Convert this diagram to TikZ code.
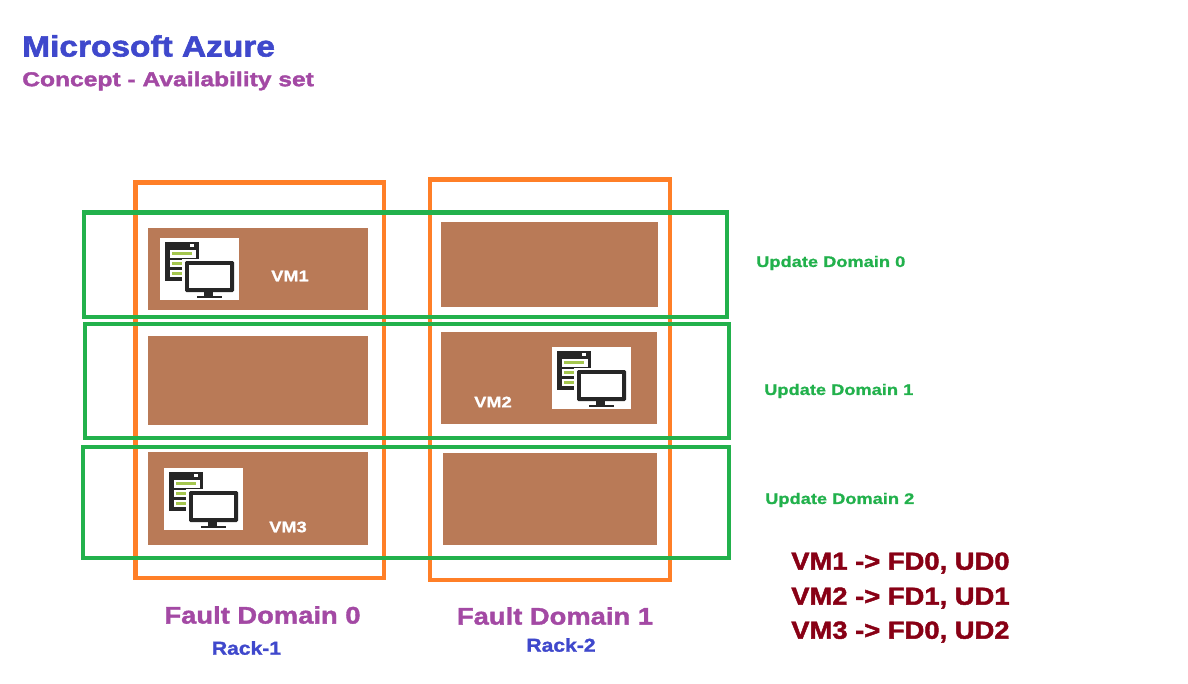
\documentclass[tikz,border=0pt]{standalone}
\usepackage{fontspec}
\setmainfont{Liberation Sans}
\newfontfamily\ttlfont[FakeStretch=1.14,FakeBold=2]{Liberation Sans Bold}
\newfontfamily\subfont[FakeStretch=1.23,FakeBold=1.8]{Liberation Sans Bold}
\newfontfamily\udfont[FakeStretch=1.19,FakeBold=1]{Liberation Sans Bold}
\newfontfamily\fdfont[FakeStretch=1.14,FakeBold=1.5]{Liberation Sans Bold}
\newfontfamily\rkfont[FakeStretch=1.13,FakeBold=1.2]{Liberation Sans Bold}
\newfontfamily\mpfont[FakeStretch=1.11,FakeBold=1.8]{Liberation Sans Bold}
\definecolor{fdorange}{HTML}{FF7F27}
\definecolor{udgreen}{HTML}{22B14C}
\definecolor{rackbrown}{HTML}{B97A57}
\definecolor{ttlblue}{HTML}{3F48CC}
\definecolor{ttlpurple}{HTML}{A349A4}
\definecolor{mapred}{HTML}{880015}
\definecolor{icondark}{HTML}{262626}
\definecolor{icongreen}{HTML}{A4C64E}
\tikzset{
  x=0.75pt,y=-0.75pt,
  fdbox/.style={draw=fdorange,line width=3.6pt,fill=none},
  udbox/.style={draw=udgreen,line width=3.6pt,fill=none},
  slot/.style={fill=rackbrown,draw=none},
  vmlabel/.style={text=white,font=\udfont\fontsize{11.5}{14}\selectfont,inner sep=0pt},
  udlabel/.style={text=udgreen,font=\udfont\fontsize{11.5}{14}\selectfont,inner sep=0pt},
  fdlabel/.style={text=ttlpurple,font=\fdfont\fontsize{18}{22}\selectfont,inner sep=0pt},
  racklabel/.style={text=ttlblue,font=\rkfont\fontsize{14}{17}\selectfont,inner sep=0pt},
  maplabel/.style={text=mapred,font=\mpfont\fontsize{18.5}{22}\selectfont,inner sep=0pt},
  vmicon/.pic={
    \fill[white] (0,0) rectangle (79,62);
    \fill[icondark] (5,4) rectangle (39,43);
    \foreach \yy in {12,21.5,31.5}{
      \fill[white] (10,\yy) rectangle (35.5,\yy+7.5);
      \fill[icongreen] (12,\yy+2) rectangle (32,\yy+5);
    }
    \fill[white] (30,6) rectangle (34,9);
    \fill[white] (22,20.5) rectangle (79,62);
    \fill[icondark,rounded corners=1pt] (25,23) rectangle (74,54);
    \fill[white] (29,27) rectangle (70,50);
    \fill[icondark] (44,54) rectangle (53,58);
    \fill[icondark] (37,58) rectangle (62,60);
  },
}
\begin{document}
\begin{tikzpicture}
\useasboundingbox (0,0) rectangle (1188,683);
\fill[white] (0,0) rectangle (1188,683);
\node[anchor=west,inner sep=0pt,text=ttlblue,font=\ttlfont\fontsize{22}{26}\selectfont] (title) at (22,46) {Microsoft Azure};
\node[anchor=west,inner sep=0pt,text=ttlpurple,font=\subfont\fontsize{15}{18}\selectfont] (subtitle) at (22,81) {Concept - Availability set};
\fill[slot] (148,228) rectangle (368,310);
\fill[slot] (441,222) rectangle (658,307);
\fill[slot] (148,336) rectangle (368,425);
\fill[slot] (441,332) rectangle (657,424);
\fill[slot] (148,452) rectangle (368,545);
\fill[slot] (443,453) rectangle (657,545);
\pic at (160,238) {vmicon};
\pic at (552,347) {vmicon};
\pic at (164,468) {vmicon};
\draw[fdbox] (135.5,182.5) rectangle (384,578);
\draw[fdbox] (430,179.5) rectangle (670,580);
\draw[udbox] (84,212.5) rectangle (727,317);
\draw[udbox] (85,324) rectangle (729,438);
\draw[udbox] (83,447) rectangle (729,558);
\node[vmlabel] (vm1) at (290,276) {VM1};
\node[vmlabel] (vm2) at (493,402) {VM2};
\node[vmlabel] (vm3) at (288,527) {VM3};
\node[udlabel,anchor=west] (ud0) at (756,263) {Update Domain 0};
\node[udlabel,anchor=west] (ud1) at (764,391) {Update Domain 1};
\node[udlabel,anchor=west] (ud2) at (765,500) {Update Domain 2};
\node[fdlabel] (fd0) at (262.5,615) {Fault Domain 0};
\node[fdlabel] (fd1) at (555,616) {Fault Domain 1};
\node[racklabel] (rack1) at (246.5,648) {Rack-1};
\node[racklabel] (rack2) at (561,645) {Rack-2};
\node[maplabel,anchor=west] (map1) at (791,563) {VM1 -> FD0, UD0};
\node[maplabel,anchor=west] (map2) at (791,598) {VM2 -> FD1, UD1};
\node[maplabel,anchor=west] (map3) at (791,632) {VM3 -> FD0, UD2};
\end{tikzpicture}
\end{document}
